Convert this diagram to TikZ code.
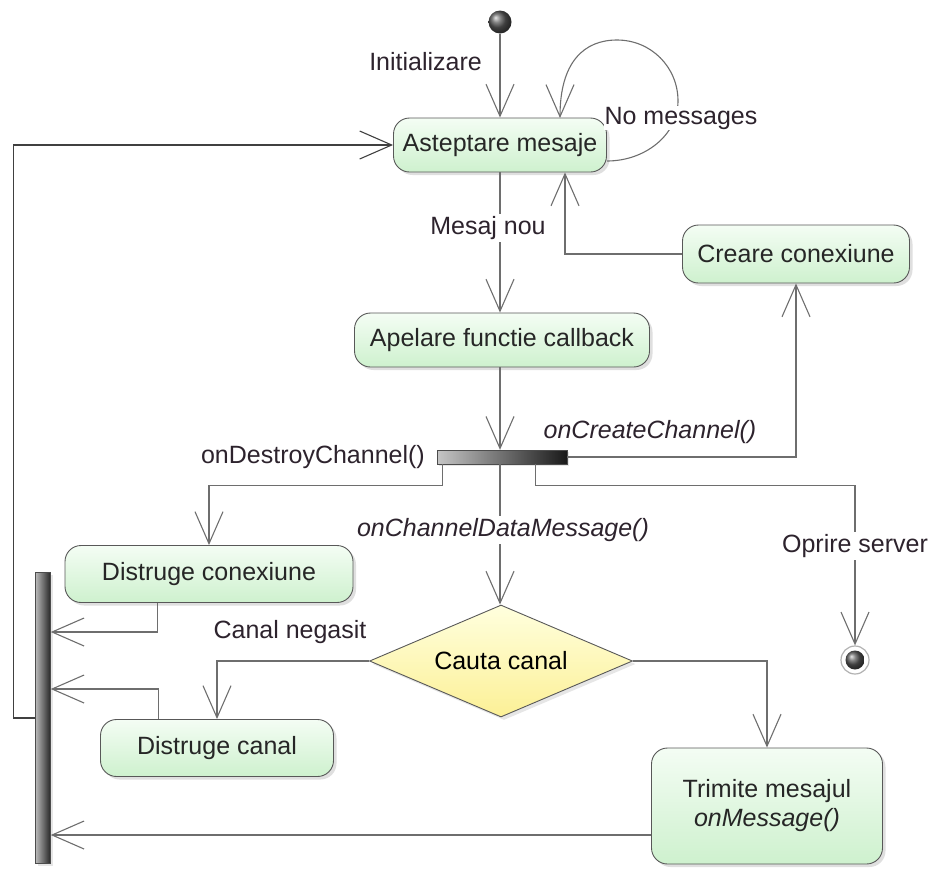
\documentclass[tikz,border=0pt]{standalone}
\usepackage{fontspec}
\setmainfont{Liberation Sans}
\usetikzlibrary{arrows.meta,shadows,shapes.geometric,calc}

\definecolor{acttop}{RGB}{244,253,244}
\definecolor{actbot}{RGB}{206,241,206}
\definecolor{decitop}{RGB}{255,255,222}
\definecolor{decibot}{RGB}{252,240,150}
\definecolor{edgecol}{RGB}{110,110,110}
\definecolor{labcol}{RGB}{45,35,45}

\tikzset{
  act/.style={rectangle, rounded corners=16pt, draw=edgecol!80!black, line width=0.9pt,
    top color=acttop, bottom color=actbot, font=\fontsize{25}{29}\selectfont,
    text=black!85, align=center,
    drop shadow={opacity=0.25, shadow xshift=3pt, shadow yshift=-3pt}},
  decision/.style={diamond, draw=edgecol!80!black, line width=0.9pt,
    top color=decitop, bottom color=decibot, font=\fontsize{25}{29}\selectfont,
    inner sep=0pt, drop shadow={opacity=0.2, shadow xshift=3pt, shadow yshift=-3pt}},
  conn/.style={draw=edgecol, line width=1.1pt, -{Straight Barb[length=32pt,width=28pt,line width=1.1pt]}},
  lab/.style={font=\fontsize{25}{29}\selectfont, text=labcol, inner sep=2pt},
  labw/.style={lab, fill=white},
  bar/.style={rectangle, inner sep=0pt, draw=black!70,
    drop shadow={opacity=0.2, shadow xshift=2pt, shadow yshift=-2pt}}
}

\begin{document}
\begin{tikzpicture}[x=1pt,y=-1pt]
\useasboundingbox (0,0) rectangle (934,868);

% activity nodes
\node[circle, inner sep=0pt, minimum size=23pt, ball color=gray!70!black] (init) at (500,22) {};
\node[act, minimum width=213pt, minimum height=54pt] (wait) at (500,145) {Asteptare mesaje};
\node[act, minimum width=227pt, minimum height=58pt] (creare) at (796,254) {Creare conexiune};
\node[act, minimum width=295pt, minimum height=54pt] (call) at (502,340) {Apelare functie callback};
\node[bar, minimum width=130pt, minimum height=14pt, left color=gray!45, right color=black!90] (fork) at (502,457) {};
\node[act, minimum width=288pt, minimum height=57pt] (dcon) at (209,574) {Distruge conexiune};
\node[decision, minimum width=263pt, minimum height=112pt, aspect=2.35] (cauta) at (501,661) {Cauta canal};
\node[act, minimum width=233pt, minimum height=57pt] (dcanal) at (217,748) {Distruge canal};
\node[act, minimum width=231pt, minimum height=116pt] (trimite) at (767,806) {Trimite mesajul\\\textit{onMessage()}};
\node[bar, minimum width=15pt, minimum height=291pt, left color=gray!55, right color=black!85] (join) at (43,718) {};
\node[circle, inner sep=0pt, minimum size=28pt, draw=gray!60, line width=1.2pt, fill=white] (final) at (855,660) {};
\node[circle, inner sep=0pt, minimum size=19pt, ball color=gray!70!black] at (final) {};

% helper rows for the returns into the join bar
\coordinate (rowA) at (0,632);
\coordinate (rowB) at (0,689);
\coordinate (rowC) at (0,835);
\coordinate (loopS) at (607,161);
\coordinate (loopE) at (560,118);

% connectors
\draw[conn] (init) -- (init |- wait.north);
\node[lab, anchor=east] at (484,62) {Initializare};

% self transition of the waiting state
\draw[conn] (loopS) .. controls (645,161) and (678,135) .. (678,101)
             .. controls (678,67) and (651,40) .. (617,40)
             .. controls (584,40) and (560,62) .. (loopE);
\node[labw, inner sep=1pt] at (681,118) {No messages};

\draw[conn] (init |- wait.south) -- (init |- call.north);
\node[labw] at (488,228) {Mesaj nou};

\draw[conn] (creare.west) -| ($(wait.south)+(65,0)$);

\draw[conn] (init |- call.south) -- (init |- fork.north);

\draw[conn] (fork.east) -| (creare.south);
\node[lab] at (650,432) {\textit{onCreateChannel()}};
\node[lab, anchor=east] at (427,457) {onDestroyChannel()};

\draw[conn] ($(fork.south west)+(6,0)$) -- ++(0,21) -| (dcon.north);
\draw[conn] ($(fork.south east)+(-32,0)$) -- ++(0,21) -| (final.north);
\node[labw] at (855,546) {Oprire server};

\draw[conn] (init |- fork.south) -- (init |- cauta.north);
\node[labw] at (503,530) {\textit{onChannelDataMessage()}};

\draw[conn] ($(dcon.south west)+(93,0)$) |- (join.east |- rowA);
\draw[conn] (cauta.west) -| (dcanal.north);
\node[lab] at (290,632) {Canal negasit};
\draw[conn] ($(dcanal.north west)+(58,0)$) |- (join.east |- rowB);
\draw[conn] (cauta.east) -| (trimite.north);
\draw[conn] (trimite.west |- rowC) -- (join.east |- rowC);

\draw[conn, draw=black!75] (join.west) -- ++(-22,0) |- (wait.west);
\end{tikzpicture}
\end{document}
